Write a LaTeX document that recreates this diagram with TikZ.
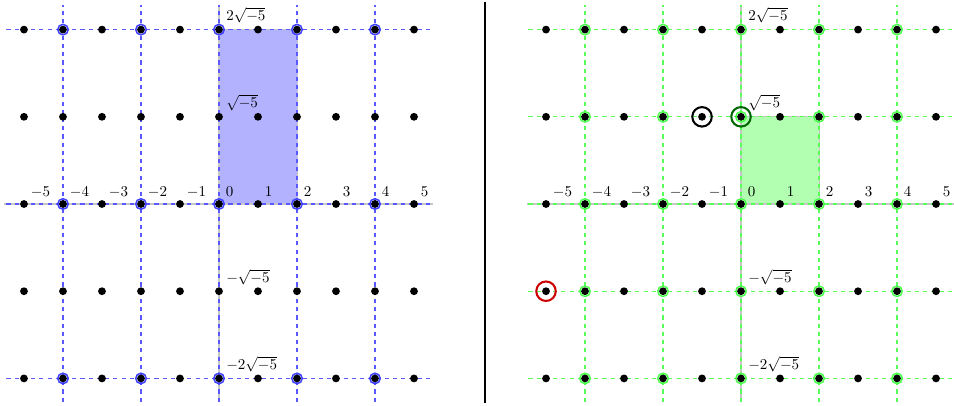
\documentclass[tikz,border=0pt]{standalone}
\usepackage{amsmath}
\begin{document}
\begin{tikzpicture}[
  font=\fontsize{11}{13}\selectfont,
  dot/.style={circle,fill=black,inner sep=0pt,minimum size=0.2cm},
  ring/.style={circle,draw,inner sep=0pt,minimum size=0.27cm,line width=1.1pt},
  bigring/.style={circle,draw,inner sep=0pt,minimum size=0.5cm,line width=1.5pt},
  axisline/.style={gray!45,line width=0.8pt},
  guide/.style={dashed,line width=0.8pt},
  lbl/.style={anchor=base west,inner sep=0pt,xshift=0.17cm,yshift=0.18cm},
  rlbl/.style={anchor=base west,inner sep=0pt,xshift=0.18cm,yshift=0.23cm},
  cell/.style={draw=gray!45,line width=0.7pt},
]
\useasboundingbox (-5.615,-5.154) rectangle (18.846,5.231);
\def\s{2.236}
% ---------- left panel ----------
\begin{scope}
  \fill[blue!30] (0,0) rectangle (2,2*\s);
  \draw[cell] (0,0) rectangle (2,2*\s);
  \draw[axisline] (-5.5,0) -- (5.5,0);
  \draw[axisline] (0,-5.07) -- (0,5.1);
  \foreach \y in {-2,0,2} \draw[guide,blue!65] (-5.45,\y*\s) -- (5.45,\y*\s);
  \foreach \x in {-4,-2,0,2,4} \draw[guide,blue!65] (\x,-5.07) -- (\x,5.1);
  \foreach \x in {-5,...,5} \foreach \y in {-2,...,2}
    \node[dot] (L\x\y) at (\x,\y*\s) {};
  \foreach \x in {-4,-2,0,2,4} \foreach \y in {-2,0,2}
    \node[ring,draw=blue!75] (LR\x\y) at (\x,\y*\s) {};
  \foreach \x in {-5,...,5} \node[lbl] (LN\x) at (L\x0.center) {$\x$};
  \node[rlbl] (LS2) at (L02.center) {$2\sqrt{-5}$};
  \node[rlbl] (LS1) at (L01.center) {$\sqrt{-5}$};
  \node[rlbl] (LSm1) at (L0-1.center) {$-\sqrt{-5}$};
  \node[rlbl] (LSm2) at (L0-2.center) {$-2\sqrt{-5}$};
\end{scope}
% ---------- divider ----------
\coordinate (dtop) at (6.82,5.18);
\coordinate (dbot) at (6.82,-5.1);
\draw[black,line width=0.8pt] (dtop) -- (dbot);
% ---------- right panel ----------
\begin{scope}[xshift=13.385cm]
  \fill[green!30] (0,0) rectangle (2,\s);
  \draw[cell] (0,0) rectangle (2,\s);
  \draw[axisline] (-5.5,0) -- (5.5,0);
  \draw[axisline] (0,-5.07) -- (0,5.1);
  \foreach \y in {-2,...,2} \draw[guide,green!65] (-5.45,\y*\s) -- (5.45,\y*\s);
  \foreach \x in {-4,-2,0,2,4} \draw[guide,green!65] (\x,-5.07) -- (\x,5.1);
  \foreach \x in {-5,...,5} \foreach \y in {-2,...,2}
    \node[dot] (R\x\y) at (\x,\y*\s) {};
  \foreach \x in {-4,-2,0,2,4} \foreach \y in {-2,...,2}
    \node[ring,draw=green!70] (RR\x\y) at (\x,\y*\s) {};
  \node[bigring,draw=black] (Ra) at (R-11.center) {};
  \node[bigring,draw=green!40!black] (Rb) at (R01.center) {};
  \node[bigring,draw=red!80!black] (Rc) at (R-5-1.center) {};
  \foreach \x in {-5,...,5} \node[lbl] (RN\x) at (R\x0.center) {$\x$};
  \node[rlbl] (RS2) at (R02.center) {$2\sqrt{-5}$};
  \node[rlbl] (RS1) at (R01.center) {$\sqrt{-5}$};
  \node[rlbl] (RSm1) at (R0-1.center) {$-\sqrt{-5}$};
  \node[rlbl] (RSm2) at (R0-2.center) {$-2\sqrt{-5}$};
\end{scope}
\end{tikzpicture}
\end{document}
